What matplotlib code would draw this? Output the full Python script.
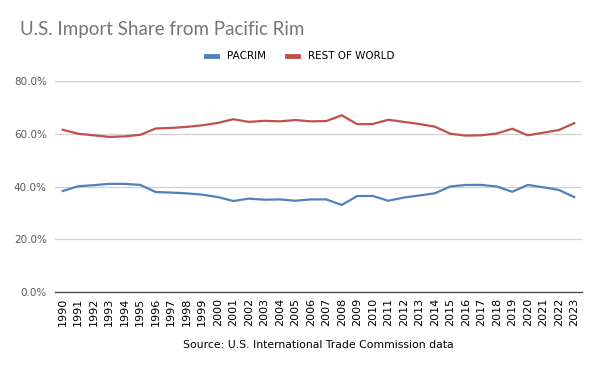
import numpy as np
import matplotlib.pyplot as plt
from matplotlib.ticker import PercentFormatter

# Data (share of U.S. imports, %)
years = np.arange(1990, 2024)
pacrim = [38.3, 40.1, 40.5, 41.0, 41.0, 40.6, 37.9, 37.7, 37.4, 36.9,
          36.0, 34.5, 35.4, 35.0, 35.1, 34.6, 35.1, 35.1, 33.0, 36.4,
          36.4, 34.6, 35.8, 36.6, 37.4, 40.0, 40.6, 40.6, 40.0, 38.0,
          40.6, 39.7, 38.7, 36.0]
rest_of_world = [61.5, 60.0, 59.4, 58.8, 59.0, 59.6, 62.0, 62.2, 62.6, 63.2,
                 64.1, 65.5, 64.5, 64.9, 64.7, 65.2, 64.7, 64.8, 67.0, 63.6,
                 63.7, 65.3, 64.5, 63.7, 62.7, 60.0, 59.3, 59.4, 60.1, 61.9,
                 59.4, 60.4, 61.4, 64.0]

fig = plt.figure(figsize=(6, 3.71), dpi=100)
ax = fig.add_axes([0.0917, 0.2129, 0.8783, 0.5688])

ax.plot(years, pacrim, color='#4f81bd', lw=1.6, label='PACRIM')
ax.plot(years, rest_of_world, color='#c0504d', lw=1.6, label='REST OF WORLD')

ax.set_xlim(1989.5, 2023.5)
ax.set_ylim(0, 80)
ax.set_yticks([0, 20, 40, 60, 80])
ax.yaxis.set_major_formatter(PercentFormatter(decimals=1))
ax.set_xticks(years)
ax.set_xticklabels([str(y) for y in years], rotation=90)
ax.tick_params(axis='both', length=0, labelsize=8, labelcolor='#404040')
ax.tick_params(axis='y', pad=6, labelsize=7.5, labelcolor='#595959')
ax.tick_params(axis='x', pad=4, labelcolor='black')
ax.grid(axis='y', color='#d0d0d0', lw=0.9)
ax.set_axisbelow(True)
for s in ['top', 'right', 'left']:
    ax.spines[s].set_visible(False)
ax.spines['bottom'].set_color('#404040')
ax.spines['bottom'].set_linewidth(0.9)

fig.text(0.033, 0.92, 'U.S. Import Share from Pacific Rim', fontsize=13.5,
         color='#757575', family='Lato', va='center')
fig.legend(loc='center', bbox_to_anchor=(0.5, 0.848), ncol=2, frameon=False,
           fontsize=7.5, handlelength=1.1, columnspacing=2.0, handletextpad=0.9)
for lh in fig.legends[0].get_lines():
    lh.set_linewidth(3.5)
fig.text(0.53, 0.07, 'Source: U.S. International Trade Commission data',
         fontsize=7.8, ha='center', va='center')

fig.savefig('out.png', dpi=100)
